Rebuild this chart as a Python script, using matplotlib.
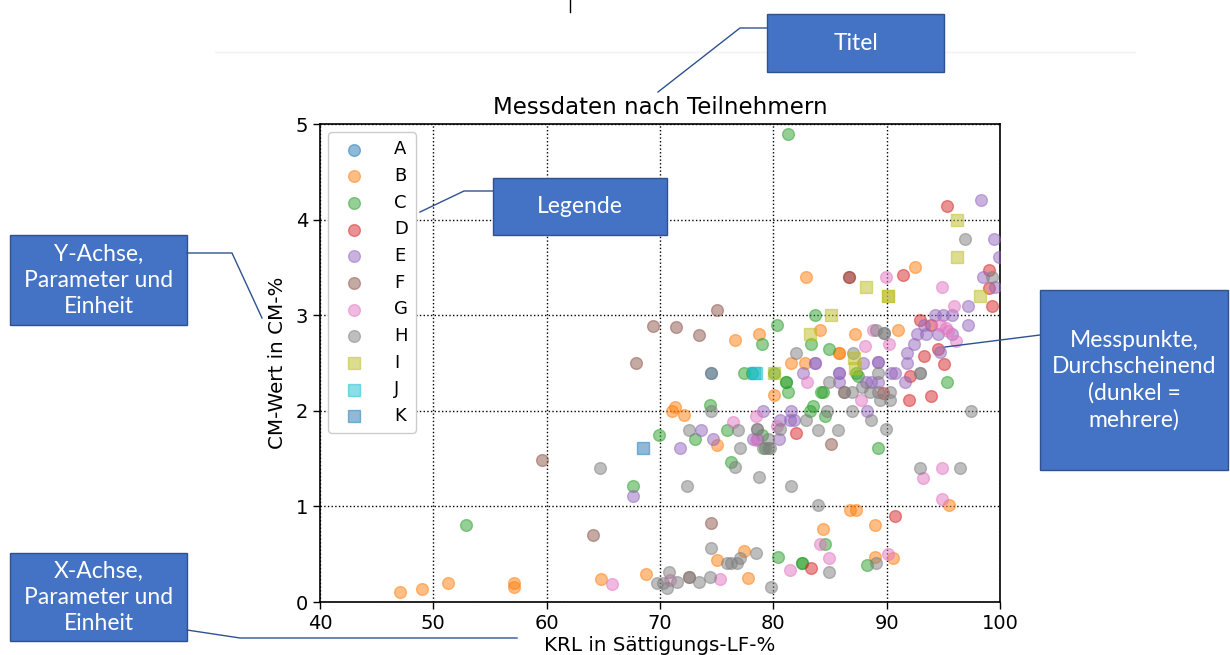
import matplotlib
matplotlib.use("Agg")
import matplotlib.pyplot as plt
from matplotlib.patches import Rectangle
from matplotlib.lines import Line2D

# ── Daten ─────────────────────────────────────────────────────────────────────
teilnehmer = ["A", "B", "C", "D", "E", "F", "G", "H", "I", "J", "K"]

a_x = [74.5]
a_y = [2.40]

b_x = [47.1, 49.0, 51.3, 57.1, 57.1, 64.8, 68.8, 71.3, 71.1, 72.1, 75.0, 80.1,
       76.6, 78.7, 82.9, 84.1, 87.2, 85.8, 85.8, 81.6, 82.8, 91.0, 92.5,
       95.5, 86.8, 87.3, 89.0, 84.4, 77.4, 75.0, 89.0, 90.6, 77.8]
b_y = [0.10, 0.14, 0.20, 0.20, 0.16, 0.24, 0.29, 2.04, 2.00, 1.96, 1.64, 2.17,
       2.74, 2.80, 3.40, 2.84, 2.80, 2.60, 2.60, 2.50, 2.50, 2.85, 3.50,
       1.01, 0.96, 0.96, 0.81, 0.76, 0.53, 0.44, 0.47, 0.46, 0.25]

c_x = [52.9, 67.6, 69.9, 81.3, 83.7, 80.3, 79.0, 83.3, 84.9, 77.4, 78.1, 80.1,
       81.1, 81.1, 81.3, 84.2, 84.4, 87.3, 87.5, 95.3, 74.4, 83.2, 83.5, 84.6,
       75.9, 73.1, 79.0, 79.3, 76.3, 89.2, 80.4, 84.6, 88.3, 82.5, 82.5]
c_y = [0.81, 1.21, 1.75, 4.90, 3.00, 2.90, 2.70, 2.70, 2.65, 2.40, 2.40, 2.40,
       2.30, 2.30, 2.20, 2.20, 2.20, 2.40, 2.36, 2.30, 2.06, 2.00, 2.05, 1.95,
       1.80, 1.71, 1.75, 1.61, 1.46, 1.61, 0.47, 0.61, 0.39, 0.41, 0.41]

d_x = [95.3, 91.4, 99.0, 99.0, 99.3, 92.9, 93.9, 94.5, 93.3, 95.1, 92.1, 92.0,
       93.9, 89.7, 82.0, 90.7, 83.3, 86.7]
d_y = [4.14, 3.42, 3.47, 3.28, 3.10, 2.95, 2.90, 2.65, 2.57, 2.49, 2.36, 2.11,
       2.15, 2.19, 1.77, 0.90, 0.36, 3.40]

e_x = [98.3, 99.5, 99.9, 98.5, 99.6, 97.2, 94.3, 95.0, 95.8, 97.2, 93.3, 92.7,
       93.5, 94.5, 95.8, 92.4, 91.8, 94.7, 91.8, 87.9, 89.2, 89.2, 83.7, 83.7,
       82.6, 85.8, 85.8, 90.4, 90.7, 91.6, 85.8, 88.2, 88.6, 89.2, 88.3, 79.1,
       81.6, 80.6, 81.5, 81.8, 73.6, 74.7, 78.2, 78.6, 80.5, 71.8, 67.6]
e_y = [4.20, 3.80, 3.61, 3.40, 3.30, 3.10, 3.00, 3.00, 3.00, 2.90, 2.90, 2.80,
       2.80, 2.80, 2.80, 2.70, 2.60, 2.61, 2.50, 2.50, 2.51, 2.51, 2.50, 2.50,
       2.40, 2.40, 2.40, 2.40, 2.40, 2.30, 2.30, 2.30, 2.30, 2.30, 2.00, 2.00,
       2.00, 1.90, 1.90, 1.90, 1.80, 1.71, 1.71, 1.71, 1.71, 1.61, 1.11]

f_x = [59.6, 64.1, 67.9, 69.4, 71.4, 73.4, 75.0, 86.7, 85.1, 74.5, 72.6, 86.2]
f_y = [1.49, 0.70, 2.50, 2.89, 2.88, 2.79, 3.05, 3.40, 1.65, 0.83, 0.26, 2.20]

g_x = [65.8, 89.9, 94.9, 95.9, 95.2, 94.7, 95.4, 96.1, 90.2, 88.1, 88.8, 83.0,
       87.7, 78.5, 76.4, 78.5, 80.3, 94.9, 93.2, 94.9, 84.1, 84.9, 90.1, 81.5,
       75.3, 70.9]
g_y = [0.19, 3.40, 3.30, 3.10, 2.87, 2.90, 2.83, 2.73, 2.70, 2.68, 2.84, 2.30,
       2.11, 1.95, 1.88, 1.69, 1.84, 1.40, 1.30, 1.08, 0.61, 0.46, 0.50, 0.33,
       0.24, 0.23]

h_x = [64.7, 69.7, 70.3, 70.6, 70.8, 71.5, 72.6, 73.4, 74.4, 79.8, 74.5, 78.5,
       75.9, 76.3, 76.8, 77.1, 84.9, 89.1, 83.9, 72.4, 81.6, 78.7, 76.6, 92.9,
       96.5, 72.6, 76.9, 77.1, 78.6, 78.6, 79.5, 79.1, 79.5, 79.7, 80.6, 82.9,
       83.9, 85.7, 89.9, 88.6, 86.9, 84.7, 74.5, 97.4, 89.4, 90.3, 86.2, 86.9,
       88.5, 89.2, 90.3, 87.8, 84.9, 89.2, 92.9, 92.9, 74.5, 82.0, 87.0, 89.1,
       89.8, 89.8, 96.9, 99.3]
h_y = [1.40, 0.20, 0.20, 0.15, 0.31, 0.21, 0.26, 0.21, 0.26, 0.16, 0.56, 0.51,
       0.41, 0.41, 0.41, 0.46, 0.31, 0.41, 1.01, 1.21, 1.21, 1.31, 1.41, 1.40,
       1.40, 1.80, 1.80, 1.61, 1.81, 1.81, 1.71, 1.61, 1.61, 1.61, 1.81, 1.90,
       1.80, 1.80, 1.81, 1.90, 2.00, 2.00, 2.00, 2.00, 2.11, 2.11, 2.20, 2.20,
       2.20, 2.20, 2.20, 2.25, 2.30, 2.40, 2.40, 2.40, 2.40, 2.60, 2.60, 2.85,
       2.81, 2.81, 3.80, 3.40]

i_x = [96.2, 96.2, 98.2, 90.1, 90.1, 88.2, 85.1, 83.2, 87.1, 87.2, 80.1]
i_y = [4.00, 3.61, 3.20, 3.20, 3.20, 3.30, 3.00, 2.80, 2.55, 2.45, 2.40]

j_x = [78.3, 78.5]
j_y = [2.40, 2.40]

k_x = [68.5]
k_y = [1.61]

reihen_x = [a_x, b_x, c_x, d_x, e_x, f_x, g_x, h_x, i_x, j_x, k_x]
reihen_y = [a_y, b_y, c_y, d_y, e_y, f_y, g_y, h_y, i_y, j_y, k_y]
marker = ["o"] * 8 + ["s"] * 3
farben = ["tab:blue", "tab:orange", "tab:green", "tab:red", "tab:purple",
          "tab:brown", "tab:pink", "tab:gray", "tab:olive", "tab:cyan",
          "tab:blue"]

x_ticks = [40, 50, 60, 70, 80, 90, 100]
y_ticks = [0, 1, 2, 3, 4, 5]

# ── Figur ─────────────────────────────────────────────────────────────────────
W, H = 1230, 655
fig = plt.figure(figsize=(W / 100, H / 100), dpi=100)
ax = fig.add_axes([320 / W, 1 - 602 / H, 680 / W, 478 / H])

for name, xs, ys, m, c in zip(teilnehmer, reihen_x, reihen_y, marker, farben):
    ax.scatter(xs, ys, s=72, marker=m, color=c, alpha=0.5,
               label=name, zorder=3)

ax.set_xlim(40, 100)
ax.set_ylim(0, 5)
ax.set_xticks(x_ticks)
ax.set_yticks(y_ticks)
ax.tick_params(labelsize=14, length=5, width=1)
ax.grid(True, color="black", linestyle=":", linewidth=1)
ax.set_axisbelow(True)
ax.set_title("Messdaten nach Teilnehmern", fontsize=16.5, pad=7)
ax.set_xlabel("KRL in Sättigungs-LF-%", fontsize=14.3, labelpad=2)
ax.set_ylabel("CM-Wert in CM-%", fontsize=14.3, labelpad=6)
for sp in ax.spines.values():
    sp.set_linewidth(1.2)

leg = ax.legend(loc="upper left", fontsize=13, labelspacing=0.48,
                handletextpad=1.2, borderpad=0.45, markerscale=1.0,
                borderaxespad=0.45, framealpha=1.0, edgecolor="#cccccc")


# ── Beschriftungen (Kästen und Linien) ────────────────────────────────────────
def fx(px):
    return px / W


def fy(py):
    return 1 - py / H


def kasten(x0, y0, x1, y1, text):
    rect = Rectangle((fx(x0), fy(y1)), fx(x1) - fx(x0), fy(y0) - fy(y1),
                     transform=fig.transFigure, facecolor="#4472C4",
                     edgecolor="#2F528F", linewidth=1.0, zorder=5)
    fig.add_artist(rect)
    fig.text(fx((x0 + x1) / 2), fy((y0 + y1) / 2), text, color="white",
             ha="center", va="center", fontsize=16.5, family="Lato",
             linespacing=1.3, zorder=6)


def linie(pxs, pys):
    fig.add_artist(Line2D([fx(p) for p in pxs], [fy(p) for p in pys],
                          transform=fig.transFigure, color="#2F528F",
                          linewidth=1.0, zorder=5))


kasten(767, 14, 944, 72, "Titel")
linie([767, 740, 658], [28, 28, 92])

kasten(493, 178, 667, 235, "Legende")
linie([493, 464, 420], [191, 191, 212])

kasten(10, 235, 187, 325, "Y-Achse,\nParameter und\nEinheit")
linie([187, 232, 262], [253, 253, 318])

kasten(1040, 290, 1228, 470, "Messpunkte,\nDurchscheinend\n(dunkel =\nmehrere)")
linie([1040, 945], [335, 347])

kasten(10, 553, 187, 641, "X-Achse,\nParameter und\nEinheit")
linie([187, 240, 517], [630, 638, 638])

# kleine Reste am oberen Rand
fig.add_artist(Line2D([fx(215), fx(1135)], [fy(52), fy(52)],
                      transform=fig.transFigure, color="#f2f2f2", linewidth=1))
fig.add_artist(Line2D([fx(570), fx(570)], [fy(0), fy(12)],
                      transform=fig.transFigure, color="black", linewidth=1))

fig.savefig("out.png", dpi=100)
